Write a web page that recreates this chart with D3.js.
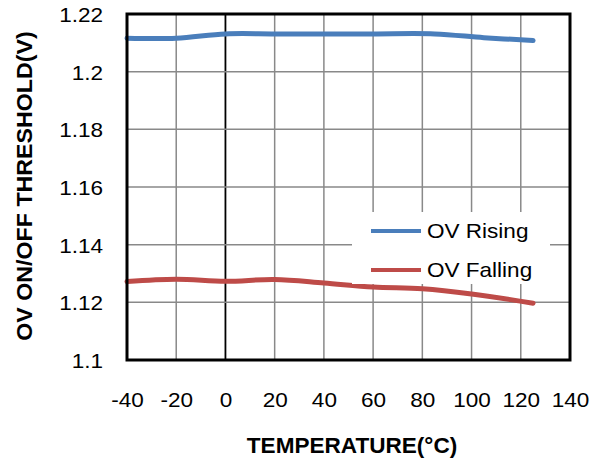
<!DOCTYPE html>
<html><head><meta charset="utf-8">
<script src="https://cdn.jsdelivr.net/npm/d3@7"></script>
<style>body{margin:0;background:#fff;} svg{display:block;} text{font-family:"Liberation Sans",Arial,sans-serif;}</style>
</head><body><svg id="c" width="603" height="460"></svg>
<script>
const risingTemps = [-40, -20, 0, 20, 40, 60, 85, 105, 125];
const risingValues = [1.2116, 1.2116, 1.2131, 1.2131, 1.2131, 1.2131, 1.2131, 1.2118, 1.2108];
const fallingTemps = [-40, -20, 0, 20, 40, 60, 80, 100, 125];
const fallingValues = [1.1272, 1.1280, 1.1273, 1.1279, 1.1267, 1.1253, 1.1247, 1.1229, 1.1197];
const xTicks = [-40, -20, 0, 20, 40, 60, 80, 100, 120, 140];
const yTicks = [1.1, 1.12, 1.14, 1.16, 1.18, 1.2, 1.22];
const seriesNames = ["OV Rising", "OV Falling"];
const seriesColors = ["#4a7ebb", "#be4b48"];

const svg = d3.select("#c");
const L = 127, R = 570, T = 14, B = 360;
const x = d3.scaleLinear().domain([-40, 140]).range([L, R]);
const y = d3.scaleLinear().domain([1.1, 1.22]).range([B, T]);

// gridlines
svg.append("g").selectAll("line").data(xTicks).join("line")
  .attr("x1", d => x(d)).attr("x2", d => x(d)).attr("y1", T).attr("y2", B)
  .attr("stroke", d => d === 0 ? "#000" : "#898989").attr("stroke-width", d => d === 0 ? 1.8 : 1.5);
svg.append("g").selectAll("line").data(yTicks).join("line")
  .attr("x1", L).attr("x2", R).attr("y1", d => y(d)).attr("y2", d => y(d))
  .attr("stroke", "#898989").attr("stroke-width", 1.5);

// series
const line = d3.line().x(d => x(d[0])).y(d => y(d[1])).curve(d3.curveCatmullRom.alpha(0.5));
const series = [
  d3.zip(risingTemps, risingValues),
  d3.zip(fallingTemps, fallingValues)
];
svg.append("g").selectAll("path").data(series).join("path")
  .attr("d", line).attr("fill", "none")
  .attr("stroke", (d, i) => seriesColors[i]).attr("stroke-width", 5).attr("stroke-linecap", "round");

// frame
svg.append("rect").attr("x", L).attr("y", T).attr("width", R - L).attr("height", B - T)
  .attr("fill", "none").attr("stroke", "#000").attr("stroke-width", 3);

// axes labels
const xAxis = d3.axisBottom(x).tickValues(xTicks).tickSize(0).tickPadding(0).tickFormat(d => String(d));
const gx = svg.append("g").attr("transform", `translate(0,${B})`).call(xAxis);
gx.select(".domain").remove();
gx.selectAll("text").attr("y", 47).attr("dy", 0).attr("font-size", 20.5).attr("fill", "#000")
  .attr("transform", "scale(1.1,1)")
  .style("font-family", "Liberation Sans, Arial, sans-serif");

const yAxis = d3.axisLeft(y).tickValues(yTicks).tickSize(0).tickPadding(0).tickFormat(d => String(+d.toFixed(2)));
const gy = svg.append("g").attr("transform", `translate(103,0)`).call(yAxis);
gy.select(".domain").remove();
gy.selectAll("text").attr("x", 0).attr("dy", "0.36em").attr("font-size", 20.5).attr("fill", "#000")
  .attr("transform", "scale(1.1,1)")
  .style("font-family", "Liberation Sans, Arial, sans-serif");

svg.append("text").attr("transform", "translate(352,453) scale(1.05,1)").attr("text-anchor", "middle")
  .attr("font-size", 21.5).attr("font-weight", "bold").text("TEMPERATURE(°C)");
svg.append("text").attr("transform", "translate(32,186) rotate(-90) scale(1.08,1)").attr("text-anchor", "middle")
  .attr("font-size", 21.5).attr("font-weight", "bold").text("OV ON/OFF THRESHOLD(V)");

// legend
const lg = svg.append("g");
lg.append("rect").attr("x", 352).attr("y", 212).attr("width", 198).attr("height", 72).attr("fill", "#fff");
seriesNames.forEach((n, i) => {
  const yy = 231 + i * 39;
  lg.append("line").attr("x1", 371).attr("x2", 421).attr("y1", yy).attr("y2", yy)
    .attr("stroke", seriesColors[i]).attr("stroke-width", 4);
  lg.append("text").attr("transform", `translate(427,${yy}) scale(1.1,1)`).attr("dy", "0.36em")
    .attr("font-size", 20.5).text(n);
});
</script></body></html>
